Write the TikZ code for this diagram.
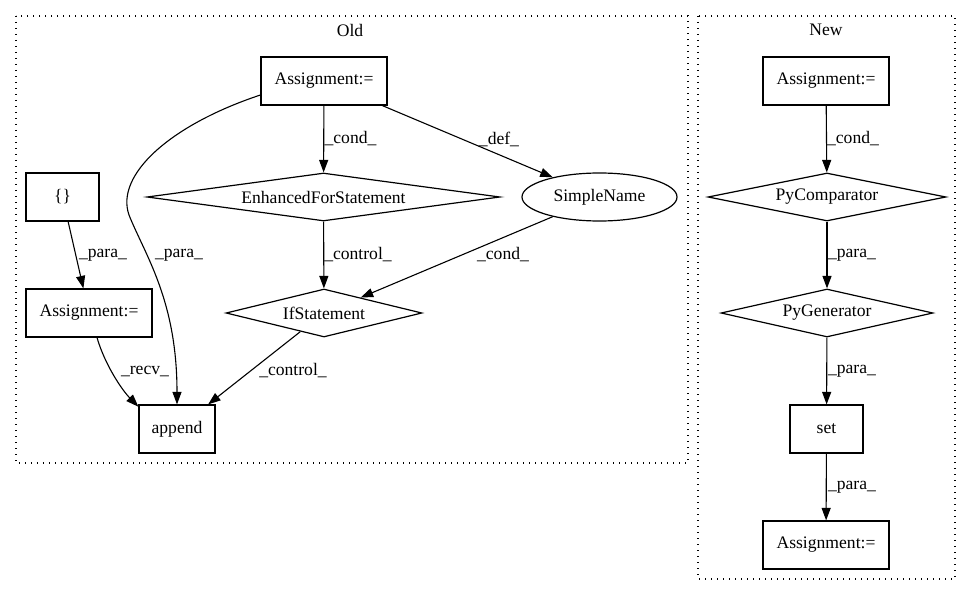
\documentclass[tikz,border=0pt]{standalone}
\usepackage{fontspec}
\setmainfont{Liberation Serif}
\usetikzlibrary{arrows.meta,shapes.geometric}
\begin{document}
\begin{tikzpicture}[x=1pt,y=-1pt,
  font=\fontsize{17.6pt}{20pt}\selectfont,
  every node/.style={inner sep=0pt},
  box/.style={draw,line width=1.2pt,rectangle,minimum height=48pt},
  dia/.style={draw,line width=1.2pt,diamond,minimum height=48pt},
  ell/.style={draw,line width=1.2pt,ellipse,minimum height=48pt},
  cluster/.style={line width=1.2pt,dash pattern=on 1.3pt off 4.7pt},
  edge/.style={line width=1.1pt,-{Triangle[length=12.5pt,width=9pt]}},
  lbl/.style={}]
\useasboundingbox (0,0) rectangle (971,596);
% clusters
\draw[cluster] (16,16) rectangle (688,463);
\draw[cluster] (698,16) rectangle (955,579);
\node (oldt) at (350,30) {Old};
\node (newt) at (826,30) {New};
% Old nodes
\node[box,minimum width=126pt] (a1) at (324,81) {Assignment:=};
\node[box,minimum width=73pt] (br) at (62.5,197) {\{\}};
\node[dia,aspect=7.35,minimum width=353pt] (efs) at (323.5,197) {EnhancedForStatement};
\node[ell,minimum width=155pt] (sn) at (599.5,197) {SimpleName};
\node[dia,aspect=4.08,minimum width=196pt] (ifs) at (324,313) {IfStatement};
\node[box,minimum width=126pt] (a2) at (89,313) {Assignment:=};
\node[box,minimum width=76pt] (app) at (177,429) {append};
% New nodes
\node[box,minimum width=126pt] (n1) at (826,81) {Assignment:=};
\node[dia,aspect=4.96,minimum width=238pt] (pc) at (827,197) {PyComparator};
\node[dia,aspect=4.42,minimum width=212pt] (pg) at (827,313) {PyGenerator};
\node[box,minimum width=73pt] (st) at (826.5,429) {set};
\node[box,minimum width=126pt] (n2) at (826,545) {Assignment:=};
% Old edges
\draw[edge] (a1) -- (efs);
\node[lbl] (l1) at (350.5,139) {\_cond\_};
\draw[edge] (a1) -- (sn);
\node[lbl] (l2) at (499,139) {\_def\_};
\draw[edge] (a1.west |- 0,95) .. controls (170,125) and (115,175) .. (129,215) .. controls (145,255) and (177,300) .. (app.north);
\node[lbl] (l3) at (179,255) {\_para\_};
\draw[edge] (br) -- (a2);
\node[lbl] (l4) at (103,255) {\_para\_};
\draw[edge] (efs) -- (ifs);
\node[lbl] (l5) at (358,255) {\_control\_};
\draw[edge] (sn) -- (ifs);
\node[lbl] (l6) at (503,255) {\_cond\_};
\draw[edge] (a2.south) ++(8,0) .. controls (105,365) and (122,390) .. (app.150);
\node[lbl] (l7) at (145,371) {\_recv\_};
\draw[edge] (ifs) -- (app);
\node[lbl] (l8) at (293,371) {\_control\_};
% New edges
\draw[edge] (n1) -- (pc);
\node[lbl] (l9) at (853,139) {\_cond\_};
\draw[edge] (pc) -- (pg);
\node[lbl] (l10) at (852,255) {\_para\_};
\draw[edge] (pg) -- (st);
\node[lbl] (l11) at (852,371) {\_para\_};
\draw[edge] (st) -- (n2);
\node[lbl] (l12) at (852,487) {\_para\_};
\end{tikzpicture}
\end{document}
